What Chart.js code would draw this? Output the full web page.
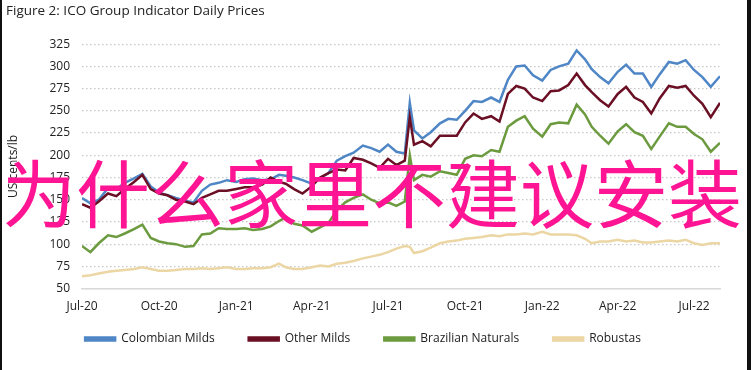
<!DOCTYPE html>
<html>
<head>
<meta charset="utf-8">
<script src="https://cdn.jsdelivr.net/npm/chart.js@4/dist/chart.umd.min.js"></script>
<style>
html,body{margin:0;padding:0;background:#fff;}
#wrap{position:relative;width:751px;height:370px;box-sizing:border-box;border-left:2px solid #111;border-right:4px solid #111;}
#overlay{position:absolute;left:0px;top:153px;font-family:"Noto Sans CJK SC";font-size:74px;line-height:74px;color:#ff1493;white-space:nowrap;pointer-events:none;}
</style>
</head>
<body>
<div id="wrap">
<canvas id="priceChart" width="745" height="370"></canvas>
<div id="overlay">为什么家里不建议安装</div>
</div>
<script>
const title = "Figure 2: ICO Group Indicator Daily Prices";
const yTitle = "US cents/lb";
const seriesNames = ["Colombian Milds","Other Milds","Brazilian Naturals","Robustas"];
const seriesColors = ["#4f86c6","#6b0f24","#6c9a3f","#ebd6a4"];

const tickDates = ["2020-07-01","2020-10-01","2021-01-01","2021-04-01","2021-07-01","2021-10-01","2022-01-01","2022-04-01","2022-07-01"];
const tickLabels = ["Jul-20","Oct-20","Jan-21","Apr-21","Jul-21","Oct-21","Jan-22","Apr-22","Jul-22"];

const dates = [
"2020-07-01","2020-07-11","2020-07-21","2020-08-01","2020-08-11","2020-08-21","2020-09-01","2020-09-11","2020-09-21",
"2020-10-01","2020-10-11","2020-10-21","2020-11-01","2020-11-11","2020-11-21","2020-12-01","2020-12-11","2020-12-21",
"2021-01-01","2021-01-11","2021-01-21","2021-02-01","2021-02-11","2021-02-21","2021-03-01","2021-03-11","2021-03-21",
"2021-04-01","2021-04-11","2021-04-21","2021-05-01","2021-05-11","2021-05-21","2021-06-01","2021-06-11","2021-06-21",
"2021-07-01","2021-07-11","2021-07-21","2021-07-27","2021-08-01","2021-08-11","2021-08-21","2021-09-01","2021-09-11","2021-09-21",
"2021-10-01","2021-10-11","2021-10-21","2021-11-01","2021-11-11","2021-11-21","2021-12-01","2021-12-11","2021-12-21",
"2022-01-01","2022-01-11","2022-01-21","2022-02-01","2022-02-11","2022-02-21","2022-03-01","2022-03-11","2022-03-21",
"2022-04-01","2022-04-11","2022-04-21","2022-05-01","2022-05-11","2022-05-21","2022-06-01","2022-06-11","2022-06-21",
"2022-07-01","2022-07-11","2022-07-21","2022-08-01"
];

const colombianMilds = [
152,146,150,163,162,169,174,179,165,158,155,152,149,147,160,167,169,172,
170,173,174,172,173,178,177,175,172,168,174,180,194,199,203,211,208,204,
212,204,202,259,228,219,226,236,241,240,250,261,260,265,260,285,300,301,290,
284,296,300,303,318,308,297,288,281,294,302,292,292,277,291,305,303,307,296,288,277,289
];
const otherMilds = [
145,141,148,157,154,162,170,178,162,157,155,150,148,145,152,156,160,160,
162,164,164,167,175,170,168,162,157,165,175,180,184,183,197,195,191,186,
196,189,194,243,212,216,210,222,222,222,237,247,241,244,238,269,278,275,265,
261,272,273,279,292,279,271,262,255,269,277,265,260,247,264,278,276,278,267,258,243,259
];
const brazilianNaturals = [
98,91,101,110,108,112,117,122,107,103,101,100,97,98,111,112,118,117,
117,118,116,117,120,126,130,123,121,114,119,124,138,147,152,156,150,146,
147,143,148,200,172,178,176,182,180,178,196,200,199,206,204,232,239,244,230,
221,235,237,236,257,246,232,222,213,227,235,226,222,207,221,236,232,232,224,218,204,214
];
const robustas = [
64,65,67,69,70,71,72,74,72,70,70,71,72,72,73,72,73,74,
72,72,73,73,74,78,74,72,72,74,76,75,78,79,81,84,86,88,
91,95,98,97,90,92,96,101,103,104,106,107,108,110,109,111,111,112,111,
114,111,111,111,110,106,101,103,103,105,103,104,102,102,103,104,103,105,101,99,101,101
];

const yMin = 50, yMax = 325, yStep = 25;

// day offsets from the first date
const start = Date.parse(dates[0]);
function dayOf(s){ return Math.round((Date.parse(s) - start) / 86400000); }
const xs = dates.map(dayOf);
const tickDays = tickDates.map(dayOf);

const allSeries = [colombianMilds, otherMilds, brazilianNaturals, robustas];

const datasets = allSeries.map((vals, i) => ({
label: seriesNames[i],
data: vals.map((v, j) => ({x: xs[j], y: v})),
borderColor: seriesColors[i],
backgroundColor: seriesColors[i],
borderWidth: 2.5,
pointRadius: 0,
tension: 0,
order: allSeries.length - i
}));

const font = "Open Sans";

new Chart(document.getElementById("priceChart"), {
type: "line",
data: { datasets: datasets },
options: {
responsive: false,
animation: false,
layout: { padding: { left: 4, right: 27, top: 0, bottom: 15 } },
plugins: {
title: {
display: true,
text: title,
align: "start",
color: "#222",
font: { family: font, size: 13.5, weight: "normal" },
padding: { top: 3, bottom: 25 }
},
legend: {
position: "bottom",
labels: {
boxWidth: 30,
boxHeight: 3,
padding: 8,
color: "#222",
font: { family: font, size: 12 },
sort: (a, b) => a.datasetIndex - b.datasetIndex,
generateLabels: (chart) => {
const items = Chart.defaults.plugins.legend.labels.generateLabels(chart);
// extra room after each name, like the wide gaps in the original legend
items.forEach(it => { if (it.datasetIndex < seriesNames.length - 1) it.text = it.text + "\u2003\u2003\u2009"; });
return items;
}
}
},
tooltip: { enabled: false }
},
scales: {
x: {
type: "linear",
min: xs[0],
max: xs[xs.length - 1],
afterBuildTicks: (scale) => { scale.ticks = tickDays.map(d => ({ value: d })); },
grid: { display: false, drawTicks: false },
border: { display: true, color: "#d9d9d9", width: 1.5 },
ticks: {
autoSkip: false,
maxRotation: 0,
padding: 11,
color: "#222",
font: { family: font, size: 12 },
callback: (v, i) => tickLabels[i]
}
},
y: {
min: yMin,
max: yMax,
afterFit: (scale) => { scale.width = 76; },
title: { display: true, text: yTitle, color: "#222", font: { family: font, size: 12 }, padding: 0 },
grid: { color: "#c8c8c8", lineWidth: 1.2, drawTicks: false },
border: { display: false, dash: [1.5, 2.5] },
ticks: {
stepSize: yStep,
padding: 12,
color: "#222",
font: { family: font, size: 12 }
}
}
}
}
});
</script>
</body>
</html>
